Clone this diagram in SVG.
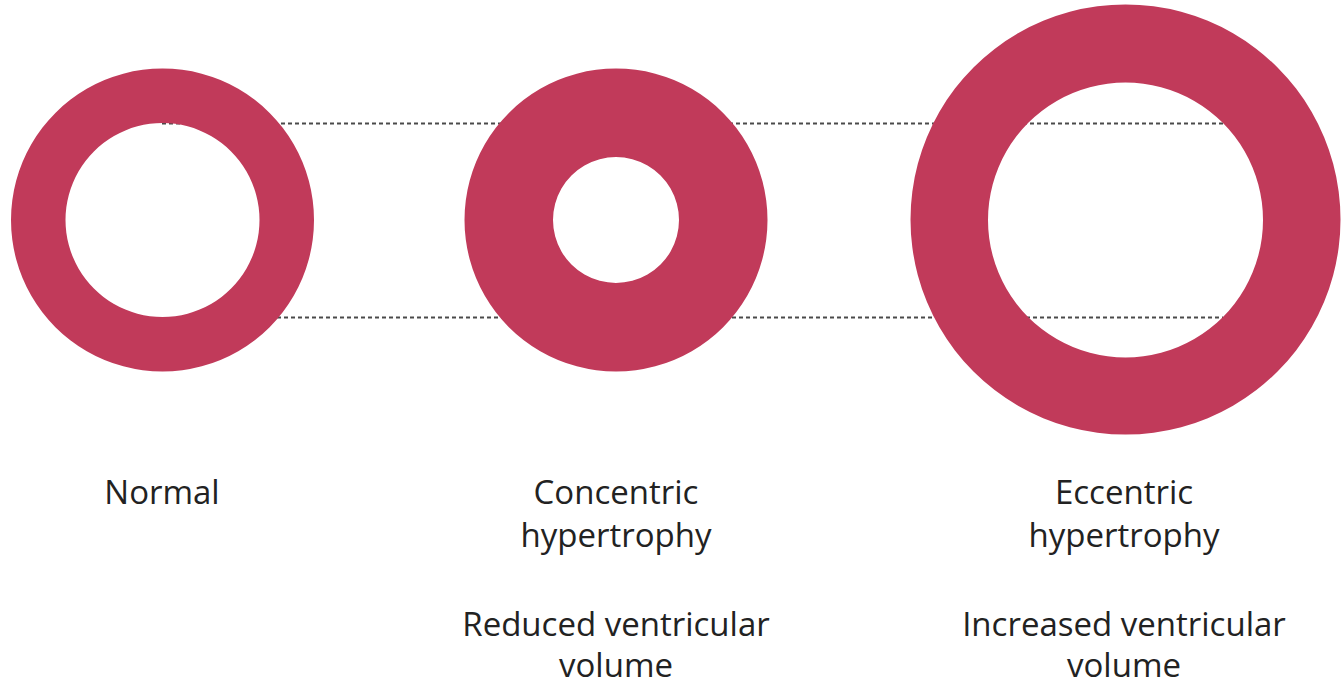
<svg xmlns="http://www.w3.org/2000/svg" width="1341" height="686" viewBox="0 0 1341 686">
<style>
.ring{fill:#C13A5A;fill-rule:evenodd}
.guide{stroke:#4a4a4a;stroke-width:2;stroke-dasharray:4 3;fill:none}
.lbl{font-family:"Open Sans","Noto Sans",sans-serif;font-size:33px;fill:#222;text-anchor:middle}
</style>
<rect width="1341" height="686" fill="#fff"/>
<g id="connectors">
<line class="guide" x1="162" y1="123.5" x2="1223" y2="123.5"/>
<line class="guide" x1="200" y1="317.5" x2="1223" y2="317.5"/>
</g>
<g id="normal">
<path class="ring" d="M162.5 68.5a151.5 151.5 0 1 0 0.01 0Z M162.5 123a97 97 0 1 0 0.01 0Z"/>
<text class="lbl" x="162" y="504">Normal</text>
</g>
<g id="concentric">
<path class="ring" d="M616 68.5a151.5 151.5 0 1 0 0.01 0Z M616 157a63 63 0 1 0 0.01 0Z"/>
<text class="lbl" x="616" y="504">Concentric</text>
<text class="lbl" x="616" y="547">hypertrophy</text>
<text class="lbl" x="616" y="636">Reduced ventricular</text>
<text class="lbl" x="616" y="677">volume</text>
</g>
<g id="eccentric">
<path class="ring" d="M1125.5 4.5a215 215 0 1 0 0.01 0Z M1125.5 82.5a137.5 137.5 0 1 0 0.01 0Z"/>
<text class="lbl" x="1124" y="504">Eccentric</text>
<text class="lbl" x="1124" y="547">hypertrophy</text>
<text class="lbl" x="1124" y="636">Increased ventricular</text>
<text class="lbl" x="1124" y="677">volume</text>
</g>
</svg>
